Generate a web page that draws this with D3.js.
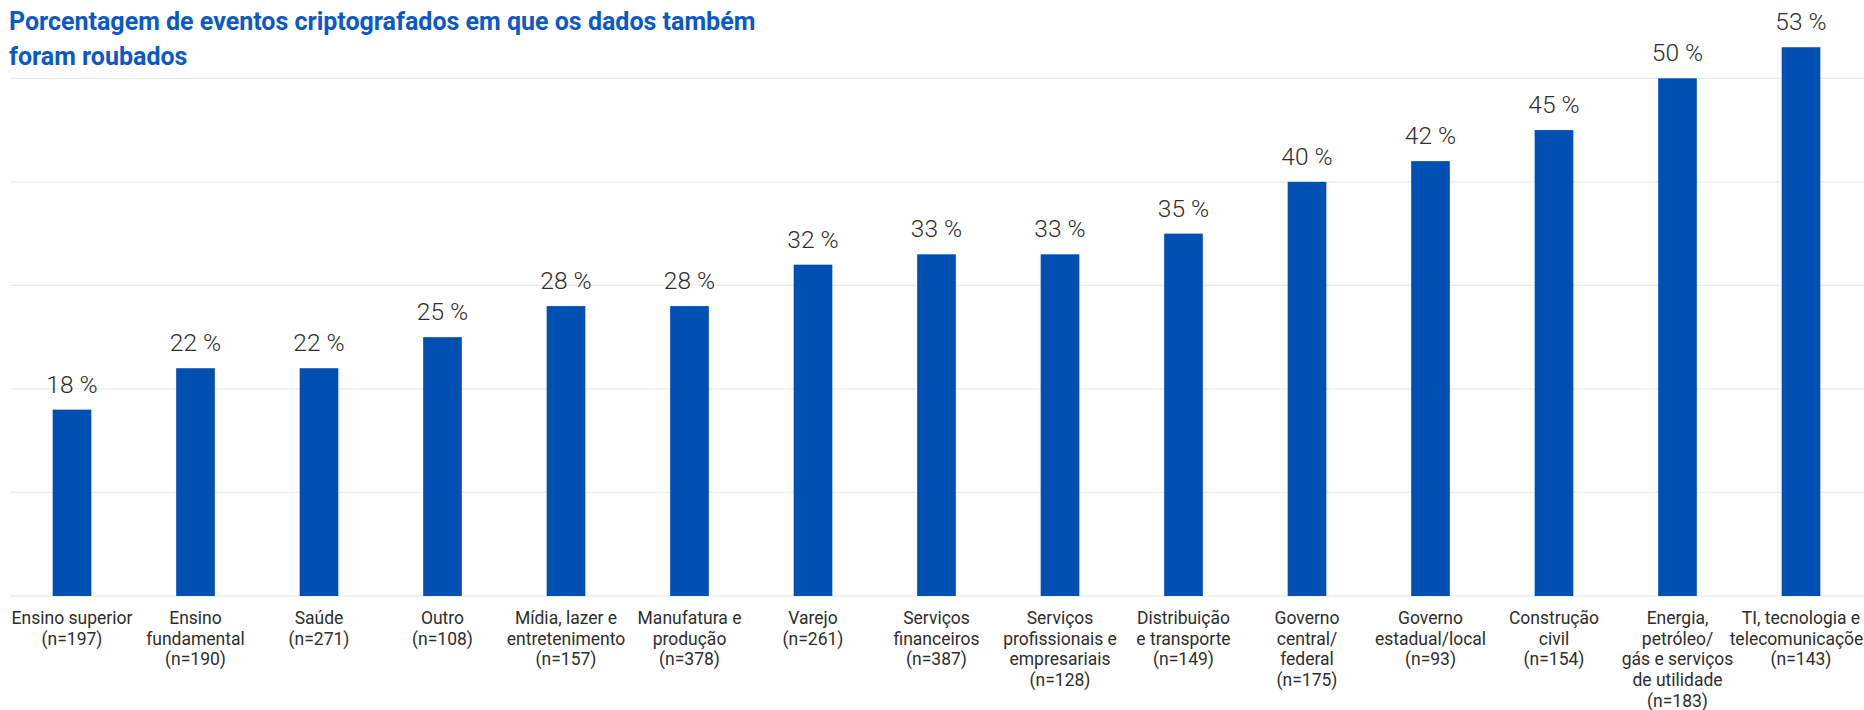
<!DOCTYPE html>
<html lang="pt-BR">
<head>
<meta charset="utf-8">
<script src="https://cdn.jsdelivr.net/npm/d3@7"></script>
<style>
  html, body { margin: 0; padding: 0; background: #ffffff; }
  svg { display: block; }
</style>
</head>
<body>
<svg id="chart" width="1864" height="710"></svg>
<script>
// Sector names, split into the lines shown under each bar
const categoryLines = [
  ["Ensino superior"],
  ["Ensino", "fundamental"],
  ["Saúde"],
  ["Outro"],
  ["Mídia, lazer e", "entretenimento"],
  ["Manufatura e", "produção"],
  ["Varejo"],
  ["Serviços", "financeiros"],
  ["Serviços", "profissionais e", "empresariais"],
  ["Distribuição", "e transporte"],
  ["Governo", "central/", "federal"],
  ["Governo", "estadual/local"],
  ["Construção", "civil"],
  ["Energia,", "petróleo/", "gás e serviços", "de utilidade"],
  ["TI, tecnologia e", "telecomunicações"]
];
// Respondents per sector
const sampleSizes = [197, 190, 271, 108, 157, 378, 261, 387, 128, 149, 175, 93, 154, 183, 143];
// Share of encrypted events where data was also stolen (%)
const values = [18, 22, 22, 25, 28, 28, 32, 33, 33, 35, 40, 42, 45, 50, 53];
// Horizontal gridline positions (%)
const gridTicks = [0, 10, 20, 30, 40, 50];

const titleLines = [
  "Porcentagem de eventos criptografados em que os dados também",
  "foram roubados"
];

const svg = d3.select("#chart");

const barColor = "#0050b4";
const titleColor = "#0a58c9";
const textColor = "#2e2e2e";
const gridColor = "#ebebeb";

const ids = values.map((_, i) => i);

const x = d3.scaleBand()
  .domain(ids)
  .range([10.25, 1862.75])
  .paddingInner(0.687)
  .paddingOuter(0.3435);

const y = d3.scaleLinear()
  .domain([0, 50])
  .range([596, 78.3]);

// Title
svg.append("g")
  .selectAll("text")
  .data(titleLines)
  .join("text")
  .attr("x", 9)
  .attr("y", (d, i) => 30 + i * 34.5)
  .attr("fill", titleColor)
  .attr("font-family", "Roboto, sans-serif")
  .attr("font-weight", 700)
  .attr("font-size", 25)
  .text(d => d);

// Gridlines
svg.append("g")
  .selectAll("line")
  .data(gridTicks)
  .join("line")
  .attr("x1", 10)
  .attr("x2", 1864)
  .attr("y1", d => y(d))
  .attr("y2", d => y(d))
  .attr("stroke", gridColor)
  .attr("stroke-width", 1.3);

// Bars
svg.append("g")
  .selectAll("rect")
  .data(ids)
  .join("rect")
  .attr("x", i => x(i))
  .attr("width", x.bandwidth())
  .attr("y", i => y(values[i]))
  .attr("height", i => y(0) - y(values[i]))
  .attr("fill", barColor);

// Value labels
svg.append("g")
  .selectAll("text")
  .data(ids)
  .join("text")
  .attr("x", i => x(i) + x.bandwidth() / 2)
  .attr("y", i => y(values[i]) - 17)
  .attr("text-anchor", "middle")
  .attr("fill", textColor)
  .attr("font-family", "Roboto, sans-serif")
  .attr("font-weight", 300)
  .attr("font-size", 24.5)
  .text(i => `${values[i]} %`);

// Category labels
const cat = svg.append("g")
  .selectAll("text")
  .data(ids)
  .join("text")
  .attr("x", i => x(i) + x.bandwidth() / 2)
  .attr("y", 624)
  .attr("text-anchor", "middle")
  .attr("fill", textColor)
  .attr("font-family", "Roboto, sans-serif")
  .attr("font-size", 17.5);

cat.selectAll("tspan")
  .data(i => [...categoryLines[i], `(n=${sampleSizes[i]})`].map(t => ({ t, cx: x(i) + x.bandwidth() / 2 })))
  .join("tspan")
  .attr("x", d => d.cx)
  .attr("dy", (d, j) => j === 0 ? 0 : 20.7)
  .text(d => d.t);
</script>
</body>
</html>
